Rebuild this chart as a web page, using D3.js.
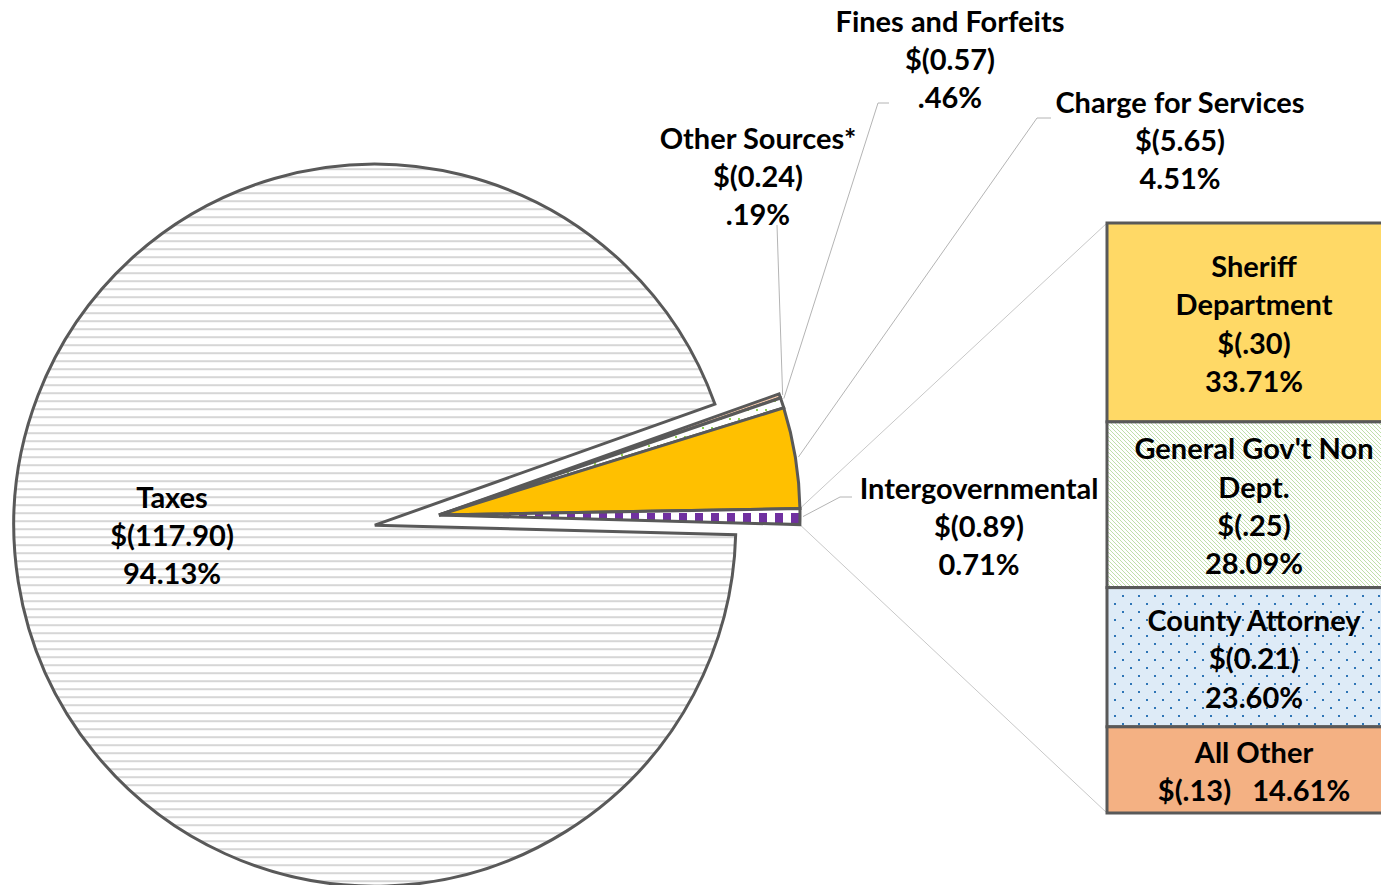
<!DOCTYPE html>
<html><head><meta charset="utf-8">
<script src="https://cdn.jsdelivr.net/npm/d3@7"></script>
<style>
body{margin:0;background:#fff}
text{font-family:Lato,'Open Sans',sans-serif;font-weight:700;fill:#000;white-space:pre}
</style>
</head><body><svg id="chart" width="1381" height="885"></svg>
<script>
// ---- data ----
const pieCategories = ["Other Sources*", "Fines and Forfeits", "Charge for Services", "Intergovernmental", "Taxes"];
const pieValues = [0.24, 0.57, 5.65, 0.89, 117.90];
const pieValueLabels = ["$(0.24)", "$(0.57)", "$(5.65)", "$(0.89)", "$(117.90)"];
const piePercentLabels = [".19%", ".46%", "4.51%", "0.71%", "94.13%"];
const barCategories = [["Sheriff", "Department"], ["General Gov't Non", "Dept."], ["County Attorney"], ["All Other"]];
const barValues = [0.30, 0.25, 0.21, 0.13];
const barValueLabels = ["$(.30)", "$(.25)", "$(0.21)", "$(.13)"];
const barPercentLabels = ["33.71%", "28.09%", "23.60%", "14.61%"];

// ---- layout ----
const W = 1381, H = 885;
const cx = 439, cy = 515, R = 361;
const startDeg = 70.4;
const explodeTaxes = 65;
const lineH = 38.4;
const fontSize = 29;
const pieFills = ["#f8cbad", "url(#finesPat)", "#ffc000", "url(#checkPat)", "url(#taxPat)"];
const barFills = ["#ffd966", "url(#hatchPat)", "url(#dotPat)", "#f4b183"];
const labelPos = [[758, 137], [950, 20], [1180, 101], [979, 487], [172, 496]];
const elbows = [
  [[777, 225]],
  [[889, 103], [878, 103]],
  [[1051, 118], [1037, 118]],
  [[852, 497], [840, 497]],
  null
];
const leaderFrac = [0.5, 0.15, 0.5, 0.5];
const barX = 1107, barW = 294, barTop = 223, barBottom = 813;

const svg = d3.select("#chart");
const defs = svg.append("defs");

// patterns
const tp = defs.append("pattern").attr("id", "taxPat").attr("patternUnits", "userSpaceOnUse").attr("width", 8).attr("height", 8);
tp.append("rect").attr("width", 8).attr("height", 8).attr("fill", "#fff");
tp.append("rect").attr("y", 3).attr("width", 8).attr("height", 2).attr("fill", "#d6d6d6");

const cp = defs.append("pattern").attr("id", "checkPat").attr("patternUnits", "userSpaceOnUse").attr("y", -2).attr("width", 16).attr("height", 48);
cp.append("rect").attr("width", 16).attr("height", 48).attr("fill", "#fff");
cp.append("rect").attr("width", 8).attr("height", 10).attr("fill", "#7030a0");

const fp = defs.append("pattern").attr("id", "finesPat").attr("patternUnits", "userSpaceOnUse").attr("width", 9).attr("height", 9);
fp.append("rect").attr("width", 9).attr("height", 9).attr("fill", "#fff");
fp.append("rect").attr("x", 2).attr("y", 2).attr("width", 2).attr("height", 2).attr("fill", "#8fd14f");

const hp = defs.append("pattern").attr("id", "hatchPat").attr("patternUnits", "userSpaceOnUse").attr("width", 4).attr("height", 4);
hp.append("rect").attr("width", 4).attr("height", 4).attr("fill", "#fff");
hp.append("path").attr("d", "M-1,-1L5,5M-1,3L1,5M3,-1L5,1").attr("stroke", "#b8dba0").attr("stroke-width", 0.9);

const dp = defs.append("pattern").attr("id", "dotPat").attr("patternUnits", "userSpaceOnUse").attr("width", 16).attr("height", 16);
dp.append("rect").attr("width", 16).attr("height", 16).attr("fill", "#deebf7");
dp.append("rect").attr("x", 2).attr("y", 3).attr("width", 2).attr("height", 2).attr("fill", "#2e75b6");
dp.append("rect").attr("x", 10).attr("y", 11).attr("width", 2).attr("height", 2).attr("fill", "#2e75b6");

// pie
const rad = d => d * Math.PI / 180;
const pie = d3.pie().sort(null).startAngle(rad(startDeg)).endAngle(rad(startDeg) + 2 * Math.PI);
const arcs = pie(pieValues);
const arc = d3.arc().innerRadius(0).outerRadius(R);
const pt = (a, r) => [cx + r * Math.sin(a), cy - r * Math.cos(a)];

const leaderG = svg.append("g");
const pieG = svg.append("g").attr("transform", `translate(${cx},${cy})`);
pieG.selectAll("path").data(arcs).join("path")
  .attr("d", arc)
  .attr("transform", (d, i) => {
    if (i !== 4) return null;
    const m = (d.startAngle + d.endAngle) / 2;
    return `translate(${explodeTaxes * Math.sin(m)},${-explodeTaxes * Math.cos(m)})`;
  })
  .attr("fill", (d, i) => pieFills[i])
  .attr("stroke", "#595959").attr("stroke-width", 3).attr("stroke-linejoin", "miter");

// leader lines for labels
arcs.forEach((d, i) => {
  if (!elbows[i]) return;
  const a = d.startAngle + (d.endAngle - d.startAngle) * leaderFrac[i];
  const pts = elbows[i].concat([pt(a, R + 3)]);
  leaderG.append("path").attr("d", d3.line()(pts)).attr("fill", "none").attr("stroke", "#b4b4b4").attr("stroke-width", 1);
});

// pie labels
arcs.forEach((d, i) => {
  const t = svg.append("text").attr("text-anchor", "middle").attr("font-size", fontSize);
  [pieCategories[i], pieValueLabels[i], piePercentLabels[i]].forEach((s, k) => {
    t.append("tspan").attr("x", labelPos[i][0]).attr("y", labelPos[i][1] + k * lineH).attr("dominant-baseline", "central").text(s);
  });
});

// bar
const total = d3.sum(barValues);
const y = d3.scaleLinear().domain([0, total]).range([barTop, barBottom]);
let cum = 0;
const segs = barValues.map((v, i) => { const s = { i, y0: cum, y1: cum + v }; cum += v; return s; });

// bar connector lines
const other = arcs[3];
const pTop = pt(other.startAngle, R), pBot = pt(other.endAngle, R);
leaderG.append("line").attr("x1", pTop[0]).attr("y1", pTop[1]).attr("x2", barX).attr("y2", y(0)).attr("stroke", "#c8c8c8").attr("stroke-width", 1);
leaderG.append("line").attr("x1", pBot[0]).attr("y1", pBot[1]).attr("x2", barX).attr("y2", y(total)).attr("stroke", "#c8c8c8").attr("stroke-width", 1);

const barG = svg.append("g");
barG.selectAll("rect").data(segs).join("rect")
  .attr("x", barX).attr("width", barW)
  .attr("y", d => y(d.y0)).attr("height", d => y(d.y1) - y(d.y0))
  .attr("fill", d => barFills[d.i]).attr("stroke", "#595959").attr("stroke-width", 3);

segs.forEach(d => {
  const lines = barCategories[d.i].slice();
  if (d.i === 3) lines.push(barValueLabels[d.i] + "   " + barPercentLabels[d.i]);
  else lines.push(barValueLabels[d.i], barPercentLabels[d.i]);
  const mid = (y(d.y0) + y(d.y1)) / 2 + 0.5;
  const first = mid - (lines.length - 1) * lineH / 2;
  const t = svg.append("text").attr("text-anchor", "middle").attr("font-size", fontSize);
  lines.forEach((s, k) => {
    t.append("tspan").attr("x", barX + barW / 2).attr("y", first + k * lineH).attr("dominant-baseline", "central").text(s);
  });
});
</script>
</body></html>
